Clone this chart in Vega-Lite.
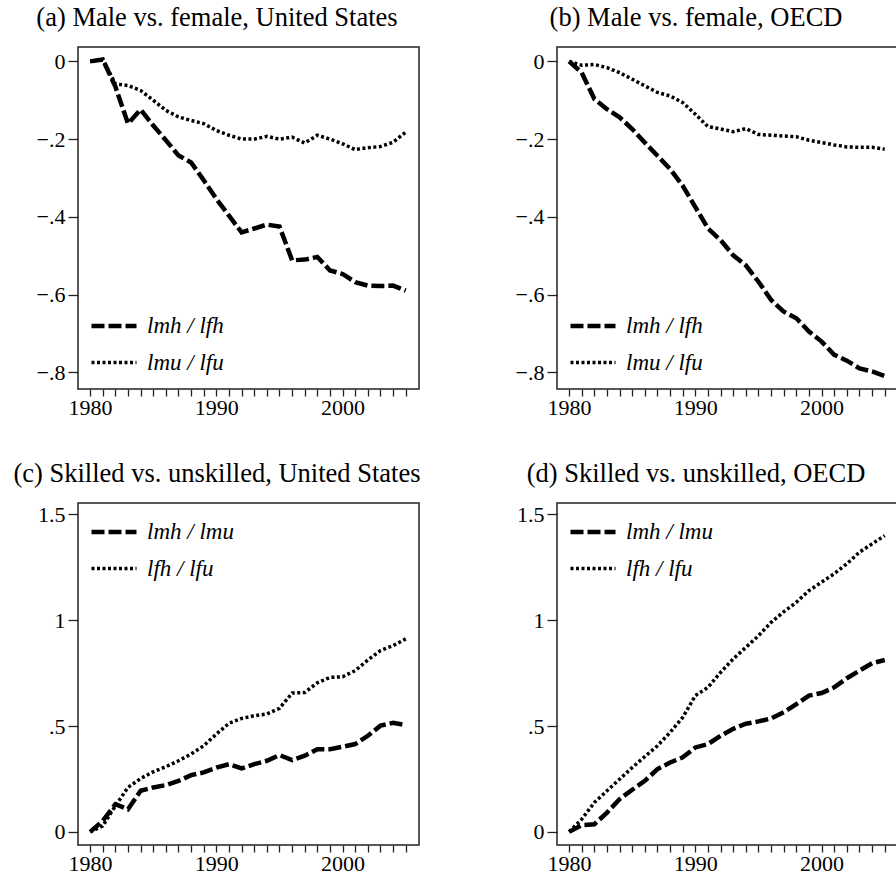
{
  "$schema": "https://vega.github.io/schema/vega-lite/v6.json",
  "padding": {"left": 12, "top": 3, "right": 0, "bottom": 0},
  "background": "white",
  "columns": 2,
  "bounds": "flush",
  "spacing": {"row": 114, "column": 138},
  "datasets": {
    "a": [
      {"year":1980,"series":"lmh / lfh","value":0},{"year":1981,"series":"lmh / lfh","value":0.005},{"year":1982,"series":"lmh / lfh","value":-0.065},{"year":1983,"series":"lmh / lfh","value":-0.16},{"year":1984,"series":"lmh / lfh","value":-0.124},{"year":1985,"series":"lmh / lfh","value":-0.165},{"year":1986,"series":"lmh / lfh","value":-0.203},{"year":1987,"series":"lmh / lfh","value":-0.242},{"year":1988,"series":"lmh / lfh","value":-0.26},{"year":1989,"series":"lmh / lfh","value":-0.306},{"year":1990,"series":"lmh / lfh","value":-0.354},{"year":1991,"series":"lmh / lfh","value":-0.397},{"year":1992,"series":"lmh / lfh","value":-0.44},{"year":1993,"series":"lmh / lfh","value":-0.43},{"year":1994,"series":"lmh / lfh","value":-0.42},{"year":1995,"series":"lmh / lfh","value":-0.425},{"year":1996,"series":"lmh / lfh","value":-0.512},{"year":1997,"series":"lmh / lfh","value":-0.51},{"year":1998,"series":"lmh / lfh","value":-0.503},{"year":1999,"series":"lmh / lfh","value":-0.538},{"year":2000,"series":"lmh / lfh","value":-0.547},{"year":2001,"series":"lmh / lfh","value":-0.568},{"year":2002,"series":"lmh / lfh","value":-0.577},{"year":2003,"series":"lmh / lfh","value":-0.578},{"year":2004,"series":"lmh / lfh","value":-0.577},{"year":2005,"series":"lmh / lfh","value":-0.59},
      {"year":1980,"series":"lmu / lfu","value":0},{"year":1981,"series":"lmu / lfu","value":0.005},{"year":1982,"series":"lmu / lfu","value":-0.058},{"year":1983,"series":"lmu / lfu","value":-0.062},{"year":1984,"series":"lmu / lfu","value":-0.075},{"year":1985,"series":"lmu / lfu","value":-0.1},{"year":1986,"series":"lmu / lfu","value":-0.126},{"year":1987,"series":"lmu / lfu","value":-0.143},{"year":1988,"series":"lmu / lfu","value":-0.152},{"year":1989,"series":"lmu / lfu","value":-0.16},{"year":1990,"series":"lmu / lfu","value":-0.178},{"year":1991,"series":"lmu / lfu","value":-0.19},{"year":1992,"series":"lmu / lfu","value":-0.2},{"year":1993,"series":"lmu / lfu","value":-0.2},{"year":1994,"series":"lmu / lfu","value":-0.193},{"year":1995,"series":"lmu / lfu","value":-0.2},{"year":1996,"series":"lmu / lfu","value":-0.195},{"year":1997,"series":"lmu / lfu","value":-0.21},{"year":1998,"series":"lmu / lfu","value":-0.19},{"year":1999,"series":"lmu / lfu","value":-0.2},{"year":2000,"series":"lmu / lfu","value":-0.212},{"year":2001,"series":"lmu / lfu","value":-0.227},{"year":2002,"series":"lmu / lfu","value":-0.222},{"year":2003,"series":"lmu / lfu","value":-0.219},{"year":2004,"series":"lmu / lfu","value":-0.208},{"year":2005,"series":"lmu / lfu","value":-0.182}
    ],
    "b": [
      {"year":1980,"series":"lmh / lfh","value":0},{"year":1981,"series":"lmh / lfh","value":-0.029},{"year":1982,"series":"lmh / lfh","value":-0.097},{"year":1983,"series":"lmh / lfh","value":-0.123},{"year":1984,"series":"lmh / lfh","value":-0.144},{"year":1985,"series":"lmh / lfh","value":-0.174},{"year":1986,"series":"lmh / lfh","value":-0.209},{"year":1987,"series":"lmh / lfh","value":-0.243},{"year":1988,"series":"lmh / lfh","value":-0.277},{"year":1989,"series":"lmh / lfh","value":-0.32},{"year":1990,"series":"lmh / lfh","value":-0.375},{"year":1991,"series":"lmh / lfh","value":-0.43},{"year":1992,"series":"lmh / lfh","value":-0.46},{"year":1993,"series":"lmh / lfh","value":-0.499},{"year":1994,"series":"lmh / lfh","value":-0.525},{"year":1995,"series":"lmh / lfh","value":-0.567},{"year":1996,"series":"lmh / lfh","value":-0.614},{"year":1997,"series":"lmh / lfh","value":-0.644},{"year":1998,"series":"lmh / lfh","value":-0.661},{"year":1999,"series":"lmh / lfh","value":-0.695},{"year":2000,"series":"lmh / lfh","value":-0.721},{"year":2001,"series":"lmh / lfh","value":-0.755},{"year":2002,"series":"lmh / lfh","value":-0.77},{"year":2003,"series":"lmh / lfh","value":-0.79},{"year":2004,"series":"lmh / lfh","value":-0.798},{"year":2005,"series":"lmh / lfh","value":-0.81},
      {"year":1980,"series":"lmu / lfu","value":0},{"year":1981,"series":"lmu / lfu","value":-0.01},{"year":1982,"series":"lmu / lfu","value":-0.008},{"year":1983,"series":"lmu / lfu","value":-0.016},{"year":1984,"series":"lmu / lfu","value":-0.029},{"year":1985,"series":"lmu / lfu","value":-0.046},{"year":1986,"series":"lmu / lfu","value":-0.063},{"year":1987,"series":"lmu / lfu","value":-0.08},{"year":1988,"series":"lmu / lfu","value":-0.089},{"year":1989,"series":"lmu / lfu","value":-0.106},{"year":1990,"series":"lmu / lfu","value":-0.136},{"year":1991,"series":"lmu / lfu","value":-0.168},{"year":1992,"series":"lmu / lfu","value":-0.174},{"year":1993,"series":"lmu / lfu","value":-0.181},{"year":1994,"series":"lmu / lfu","value":-0.173},{"year":1995,"series":"lmu / lfu","value":-0.188},{"year":1996,"series":"lmu / lfu","value":-0.19},{"year":1997,"series":"lmu / lfu","value":-0.192},{"year":1998,"series":"lmu / lfu","value":-0.194},{"year":1999,"series":"lmu / lfu","value":-0.203},{"year":2000,"series":"lmu / lfu","value":-0.209},{"year":2001,"series":"lmu / lfu","value":-0.215},{"year":2002,"series":"lmu / lfu","value":-0.22},{"year":2003,"series":"lmu / lfu","value":-0.221},{"year":2004,"series":"lmu / lfu","value":-0.221},{"year":2005,"series":"lmu / lfu","value":-0.226}
    ],
    "c": [
      {"year":1980,"series":"lmh / lmu","value":0},{"year":1981,"series":"lmh / lmu","value":0.052},{"year":1982,"series":"lmh / lmu","value":0.131},{"year":1983,"series":"lmh / lmu","value":0.107},{"year":1984,"series":"lmh / lmu","value":0.194},{"year":1985,"series":"lmh / lmu","value":0.21},{"year":1986,"series":"lmh / lmu","value":0.221},{"year":1987,"series":"lmh / lmu","value":0.241},{"year":1988,"series":"lmh / lmu","value":0.268},{"year":1989,"series":"lmh / lmu","value":0.281},{"year":1990,"series":"lmh / lmu","value":0.304},{"year":1991,"series":"lmh / lmu","value":0.32},{"year":1992,"series":"lmh / lmu","value":0.3},{"year":1993,"series":"lmh / lmu","value":0.32},{"year":1994,"series":"lmh / lmu","value":0.336},{"year":1995,"series":"lmh / lmu","value":0.363},{"year":1996,"series":"lmh / lmu","value":0.339},{"year":1997,"series":"lmh / lmu","value":0.36},{"year":1998,"series":"lmh / lmu","value":0.391},{"year":1999,"series":"lmh / lmu","value":0.391},{"year":2000,"series":"lmh / lmu","value":0.402},{"year":2001,"series":"lmh / lmu","value":0.415},{"year":2002,"series":"lmh / lmu","value":0.454},{"year":2003,"series":"lmh / lmu","value":0.502},{"year":2004,"series":"lmh / lmu","value":0.515},{"year":2005,"series":"lmh / lmu","value":0.505},
      {"year":1980,"series":"lfh / lfu","value":0},{"year":1981,"series":"lfh / lfu","value":0.028},{"year":1982,"series":"lfh / lfu","value":0.123},{"year":1983,"series":"lfh / lfu","value":0.21},{"year":1984,"series":"lfh / lfu","value":0.252},{"year":1985,"series":"lfh / lfu","value":0.284},{"year":1986,"series":"lfh / lfu","value":0.308},{"year":1987,"series":"lfh / lfu","value":0.336},{"year":1988,"series":"lfh / lfu","value":0.368},{"year":1989,"series":"lfh / lfu","value":0.407},{"year":1990,"series":"lfh / lfu","value":0.462},{"year":1991,"series":"lfh / lfu","value":0.513},{"year":1992,"series":"lfh / lfu","value":0.536},{"year":1993,"series":"lfh / lfu","value":0.549},{"year":1994,"series":"lfh / lfu","value":0.557},{"year":1995,"series":"lfh / lfu","value":0.584},{"year":1996,"series":"lfh / lfu","value":0.656},{"year":1997,"series":"lfh / lfu","value":0.659},{"year":1998,"series":"lfh / lfu","value":0.704},{"year":1999,"series":"lfh / lfu","value":0.73},{"year":2000,"series":"lfh / lfu","value":0.733},{"year":2001,"series":"lfh / lfu","value":0.762},{"year":2002,"series":"lfh / lfu","value":0.812},{"year":2003,"series":"lfh / lfu","value":0.857},{"year":2004,"series":"lfh / lfu","value":0.88},{"year":2005,"series":"lfh / lfu","value":0.912}
    ],
    "d": [
      {"year":1980,"series":"lmh / lmu","value":0},{"year":1981,"series":"lmh / lmu","value":0.032},{"year":1982,"series":"lmh / lmu","value":0.036},{"year":1983,"series":"lmh / lmu","value":0.091},{"year":1984,"series":"lmh / lmu","value":0.155},{"year":1985,"series":"lmh / lmu","value":0.199},{"year":1986,"series":"lmh / lmu","value":0.241},{"year":1987,"series":"lmh / lmu","value":0.297},{"year":1988,"series":"lmh / lmu","value":0.328},{"year":1989,"series":"lmh / lmu","value":0.352},{"year":1990,"series":"lmh / lmu","value":0.399},{"year":1991,"series":"lmh / lmu","value":0.415},{"year":1992,"series":"lmh / lmu","value":0.454},{"year":1993,"series":"lmh / lmu","value":0.487},{"year":1994,"series":"lmh / lmu","value":0.511},{"year":1995,"series":"lmh / lmu","value":0.522},{"year":1996,"series":"lmh / lmu","value":0.536},{"year":1997,"series":"lmh / lmu","value":0.565},{"year":1998,"series":"lmh / lmu","value":0.604},{"year":1999,"series":"lmh / lmu","value":0.644},{"year":2000,"series":"lmh / lmu","value":0.656},{"year":2001,"series":"lmh / lmu","value":0.683},{"year":2002,"series":"lmh / lmu","value":0.726},{"year":2003,"series":"lmh / lmu","value":0.762},{"year":2004,"series":"lmh / lmu","value":0.797},{"year":2005,"series":"lmh / lmu","value":0.812},
      {"year":1980,"series":"lfh / lfu","value":0},{"year":1981,"series":"lfh / lfu","value":0.06},{"year":1982,"series":"lfh / lfu","value":0.139},{"year":1983,"series":"lfh / lfu","value":0.194},{"year":1984,"series":"lfh / lfu","value":0.249},{"year":1985,"series":"lfh / lfu","value":0.304},{"year":1986,"series":"lfh / lfu","value":0.356},{"year":1987,"series":"lfh / lfu","value":0.407},{"year":1988,"series":"lfh / lfu","value":0.47},{"year":1989,"series":"lfh / lfu","value":0.541},{"year":1990,"series":"lfh / lfu","value":0.644},{"year":1991,"series":"lfh / lfu","value":0.683},{"year":1992,"series":"lfh / lfu","value":0.754},{"year":1993,"series":"lfh / lfu","value":0.817},{"year":1994,"series":"lfh / lfu","value":0.872},{"year":1995,"series":"lfh / lfu","value":0.927},{"year":1996,"series":"lfh / lfu","value":0.99},{"year":1997,"series":"lfh / lfu","value":1.04},{"year":1998,"series":"lfh / lfu","value":1.085},{"year":1999,"series":"lfh / lfu","value":1.14},{"year":2000,"series":"lfh / lfu","value":1.18},{"year":2001,"series":"lfh / lfu","value":1.22},{"year":2002,"series":"lfh / lfu","value":1.267},{"year":2003,"series":"lfh / lfu","value":1.322},{"year":2004,"series":"lfh / lfu","value":1.361},{"year":2005,"series":"lfh / lfu","value":1.4}
    ]
  },
  "concat": [
    {
      "width": 341, "height": 342,
      "title": "(a) Male vs. female, United States",
      "data": {"name": "a"},
      "mark": {"type": "line", "color": "black", "strokeCap": "butt"},
      "encoding": {
        "x": {"field": "year", "type": "quantitative", "title": null,
          "scale": {"domain": [1979.04, 2006.05], "nice": false, "zero": false},
          "axis": {"values": [1980,1981,1982,1983,1984,1985,1986,1987,1988,1989,1990,1991,1992,1993,1994,1995,1996,1997,1998,1999,2000,2001,2002,2003,2004,2005], "format": "d", "labelExpr": "datum.value % 10 === 0 ? datum.label : ''", "tickSize": 7, "labelPadding": 1,
            "encode": {"ticks": {"update": {"y": {"value": -7}, "y2": {"signal": "datum.value % 10 === 0 ? 7 : 0"}}}}}},
        "y": {"field": "value", "type": "quantitative", "title": null,
          "scale": {"domain": [-0.843, 0.037], "nice": false, "zero": false},
          "axis": {"values": [0, -0.2, -0.4, -0.6, -0.8], "labelExpr": "replace(format(datum.value, '~g'), '0.', '.')"}},
        "strokeDash": {"field": "series", "type": "nominal",
          "scale": {"domain": ["lmh / lfh", "lmu / lfu"], "range": [[13, 4], [3, 2.5]]},
          "legend": {"orient": "none", "legendX": 9, "legendY": 252}},
        "strokeWidth": {"field": "series", "type": "nominal",
          "scale": {"domain": ["lmh / lfh", "lmu / lfu"], "range": [4.5, 3.5]},
          "legend": {"orient": "none", "legendX": 9, "legendY": 252}}
      }
    },
    {
      "width": 341, "height": 342,
      "title": "(b) Male vs. female, OECD",
      "data": {"name": "b"},
      "mark": {"type": "line", "color": "black", "strokeCap": "butt"},
      "encoding": {
        "x": {"field": "year", "type": "quantitative", "title": null,
          "scale": {"domain": [1979.04, 2006.05], "nice": false, "zero": false},
          "axis": {"values": [1980,1981,1982,1983,1984,1985,1986,1987,1988,1989,1990,1991,1992,1993,1994,1995,1996,1997,1998,1999,2000,2001,2002,2003,2004,2005], "format": "d", "labelExpr": "datum.value % 10 === 0 ? datum.label : ''", "tickSize": 7, "labelPadding": 1,
            "encode": {"ticks": {"update": {"y": {"value": -7}, "y2": {"signal": "datum.value % 10 === 0 ? 7 : 0"}}}}}},
        "y": {"field": "value", "type": "quantitative", "title": null,
          "scale": {"domain": [-0.843, 0.037], "nice": false, "zero": false},
          "axis": {"values": [0, -0.2, -0.4, -0.6, -0.8], "labelExpr": "replace(format(datum.value, '~g'), '0.', '.')"}},
        "strokeDash": {"field": "series", "type": "nominal",
          "scale": {"domain": ["lmh / lfh", "lmu / lfu"], "range": [[13, 4], [3, 2.5]]},
          "legend": {"orient": "none", "legendX": 9, "legendY": 252}},
        "strokeWidth": {"field": "series", "type": "nominal",
          "scale": {"domain": ["lmh / lfh", "lmu / lfu"], "range": [4.5, 3.5]},
          "legend": {"orient": "none", "legendX": 9, "legendY": 252}}
      }
    },
    {
      "width": 341, "height": 342,
      "title": "(c) Skilled vs. unskilled, United States",
      "data": {"name": "c"},
      "mark": {"type": "line", "color": "black", "strokeCap": "butt"},
      "encoding": {
        "x": {"field": "year", "type": "quantitative", "title": null,
          "scale": {"domain": [1979.04, 2006.05], "nice": false, "zero": false},
          "axis": {"values": [1980,1981,1982,1983,1984,1985,1986,1987,1988,1989,1990,1991,1992,1993,1994,1995,1996,1997,1998,1999,2000,2001,2002,2003,2004,2005], "format": "d", "labelExpr": "datum.value % 10 === 0 ? datum.label : ''", "tickSize": 7, "labelPadding": 1,
            "encode": {"ticks": {"update": {"y": {"value": -7}, "y2": {"signal": "datum.value % 10 === 0 ? 7 : 0"}}}}}},
        "y": {"field": "value", "type": "quantitative", "title": null,
          "scale": {"domain": [-0.062, 1.554], "nice": false, "zero": false},
          "axis": {"values": [0, 0.5, 1, 1.5], "labelExpr": "replace(format(datum.value, '~g'), '0.', '.')"}},
        "strokeDash": {"field": "series", "type": "nominal",
          "scale": {"domain": ["lmh / lmu", "lfh / lfu"], "range": [[13, 4], [3, 2.5]]},
          "legend": {"orient": "none", "legendX": 9, "legendY": 2}},
        "strokeWidth": {"field": "series", "type": "nominal",
          "scale": {"domain": ["lmh / lmu", "lfh / lfu"], "range": [4.5, 3.5]},
          "legend": {"orient": "none", "legendX": 9, "legendY": 2}}
      }
    },
    {
      "width": 341, "height": 342,
      "title": "(d) Skilled vs. unskilled, OECD",
      "data": {"name": "d"},
      "mark": {"type": "line", "color": "black", "strokeCap": "butt"},
      "encoding": {
        "x": {"field": "year", "type": "quantitative", "title": null,
          "scale": {"domain": [1979.04, 2006.05], "nice": false, "zero": false},
          "axis": {"values": [1980,1981,1982,1983,1984,1985,1986,1987,1988,1989,1990,1991,1992,1993,1994,1995,1996,1997,1998,1999,2000,2001,2002,2003,2004,2005], "format": "d", "labelExpr": "datum.value % 10 === 0 ? datum.label : ''", "tickSize": 7, "labelPadding": 1,
            "encode": {"ticks": {"update": {"y": {"value": -7}, "y2": {"signal": "datum.value % 10 === 0 ? 7 : 0"}}}}}},
        "y": {"field": "value", "type": "quantitative", "title": null,
          "scale": {"domain": [-0.062, 1.554], "nice": false, "zero": false},
          "axis": {"values": [0, 0.5, 1, 1.5], "labelExpr": "replace(format(datum.value, '~g'), '0.', '.')"}},
        "strokeDash": {"field": "series", "type": "nominal",
          "scale": {"domain": ["lmh / lmu", "lfh / lfu"], "range": [[13, 4], [3, 2.5]]},
          "legend": {"orient": "none", "legendX": 9, "legendY": 2}},
        "strokeWidth": {"field": "series", "type": "nominal",
          "scale": {"domain": ["lmh / lmu", "lfh / lfu"], "range": [4.5, 3.5]},
          "legend": {"orient": "none", "legendX": 9, "legendY": 2}}
      }
    }
  ],
  "resolve": {
    "scale": {"x": "independent", "y": "independent", "strokeDash": "independent", "strokeWidth": "independent"},
    "legend": {"strokeDash": "independent", "strokeWidth": "independent"}
  },
  "config": {
    "font": "Liberation Serif",
    "view": {"stroke": "#222", "strokeWidth": 1.5},
    "axis": {"labelFont": "Liberation Serif", "labelFontSize": 22, "labelColor": "black", "tickColor": "#222", "tickWidth": 1.3, "domain": false, "grid": false, "labelOverlap": false, "labelFlush": false, "labelBound": false},
    "axisY": {"tickSize": 10, "labelPadding": 3},
    "title": {"font": "Liberation Serif", "fontSize": 26.5, "fontWeight": "normal", "color": "black", "anchor": "middle", "frame": "group", "dx": -31.5, "offset": 16, "baseline": "alphabetic"},
    "legend": {"title": null, "symbolType": "stroke", "symbolSize": 2025, "symbolStrokeColor": "black", "labelFont": "Liberation Serif", "labelFontStyle": "italic", "labelFontSize": 23, "labelColor": "black", "padding": 2, "rowPadding": -7, "labelOffset": 8}
  }
}
